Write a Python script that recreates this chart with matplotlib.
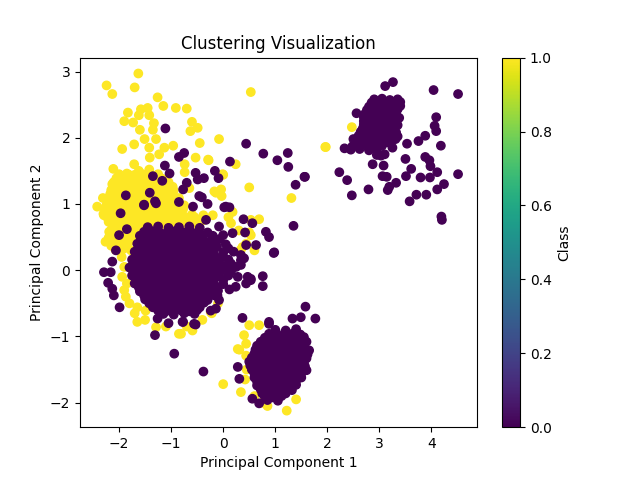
import matplotlib
matplotlib.use("Agg")
import matplotlib.pyplot as plt
import numpy as np

# ---- Class 1 (yellow) points ----
class1_x = [
    -1.63, -2.24, -2.13, -1.70, 0.53, -1.26, -1.15, -0.91, -0.70, -1.83, -1.58, -1.45, -1.62, -1.42,
    -1.90, -1.73, -1.33, -0.60, -0.49, -0.63, -1.60, -1.35, -0.08, -0.45, -1.51, -1.29, -1.71, -1.94,
    -1.42, -1.13, -0.96, -1.41, -1.23, -0.53, -0.29, 0.24, -2.11, -1.71, -1.62, -1.42, -1.81, -0.74,
    -0.74, 0.00, 0.50, -2.13, -2.00, -0.14, -0.04, -2.31, -0.65, 1.96, -0.28, -0.01, 1.31, -0.17,
    -0.03, 0.18, 0.69, 0.53, 0.50, 0.34, 0.60, -0.38, -2.42, -2.29, -2.19, -2.26, -1.94, -1.90,
    -1.87, -1.65, -1.49, -1.65, -1.29, -0.85, -0.59, -0.24, -0.22, -0.81, 0.44, 0.53, 0.15, 0.37,
    -0.40, -0.20, -0.55, 0.10, 0.30,
    -1.95, -1.90, -1.85, -1.80, -1.70, -1.50, -1.10, -0.70, -0.40, -0.10,
    2.47, 1.97,
    0.50, 0.69, 0.40, 0.44, 0.28, 1.01, 0.31, 0.44, 0.00, 0.34, 0.85, 1.22, 0.45, 0.42, 0.60, 1.40, 0.75,
    # dense yellow core
    -2.00, -1.85, -1.70, -1.55, -1.40, -1.25,
    -2.05, -1.92, -1.77, -1.62, -1.47, -1.32, -1.17,
    -2.10, -1.95, -1.80, -1.65, -1.50, -1.35, -1.20, -1.05,
    -2.12, -1.97, -1.82, -1.67, -1.52, -1.37, -1.22, -1.07, -0.97,
    -2.15, -2.00, -1.85, -1.70, -1.55, -1.40, -1.25, -1.10, -0.95,
    -2.17, -2.02, -1.87, -1.72, -1.57, -1.42, -1.27, -1.12, -0.97,
    -2.20, -2.05, -1.90, -1.75, -1.60, -1.45, -1.30, -1.15, -1.00, -0.85,
    -2.22, -2.07, -1.92, -1.77, -1.62, -1.47, -1.32, -1.17, -1.02, -0.87,
    -2.25, -2.10, -1.95, -1.80, -1.65, -1.50, -1.35, -1.20, -1.05, -0.90, -0.75,
    -2.27, -2.12, -1.97, -1.82, -1.67, -1.52, -1.37, -1.22, -1.07, -0.92, -0.77,
    -2.30, -2.15, -2.00, -1.85, -1.70, -1.55, -1.40, -1.25, -1.10, -0.95, -0.80, -0.60,
    -2.22, -2.07, -1.92, -1.77, -1.62, -1.47, -1.32, -1.17, -1.02, -0.87, -0.72, -0.55,
    -2.20, -2.05, -1.90, -1.75, -1.60, -1.45, -1.30, -1.15, -1.00, -0.85, -0.70, -0.50,
    -2.12, -1.97, -1.82, -1.67, -1.52, -1.37, -1.22, -1.07, -0.92, -0.77, -0.62,
    -2.15, -2.00, -1.85, -1.70, -1.55,
    -2.12, -1.97, -1.82, -1.67, -1.52,
    -2.20, -2.05, -1.90, -1.75,
    -2.12, -1.97, -1.82, -1.67,
    -2.15, -2.00, -1.85,
    -2.07, -1.92, -1.77,
]
class1_y = [
    2.97, 2.79, 2.66, 2.76, 2.69, 2.61, 2.48, 2.45, 2.44, 2.38, 2.43, 2.45, 2.34, 2.34,
    2.25, 2.23, 2.22, 2.24, 2.15, 2.10, 2.12, 2.12, 1.98, 1.92, 1.98, 1.98, 1.90, 1.83,
    1.85, 1.85, 1.88, 1.70, 1.75, 1.70, 1.67, 1.60, 1.53, 1.60, 1.50, 1.52, 1.44, 1.60,
    1.48, 1.44, 1.25, 1.30, 1.30, 1.17, 1.22, 1.09, 1.24, 1.86, 1.66, 1.45, 1.09, 1.19,
    1.12, 0.88, 0.77, 0.76, 0.57, 0.31, 0.30, 0.83, 0.96, 0.83, 0.58, 0.43, -0.10, -0.30,
    -0.40, -0.56, -0.61, -0.78, -0.86, -0.96, -0.91, -0.63, -0.65, -0.96, 0.40, 0.53, 0.71, 0.35,
    0.75, 0.83, 0.80, 0.80, 0.60,
    0.20, 0.05, -0.20, -0.50, -0.65, -0.75, -0.85, -0.85, -0.75, -0.50,
    2.16, 1.86,
    -0.83, -0.83, -0.98, -1.11, -1.19, -0.98, -1.20, -1.29, -1.72, -1.84, -2.05, -2.12, -1.50, -1.65, -1.90, -1.95, -2.00,
    1.45, 1.46, 1.44, 1.45, 1.43, 1.45,
    1.39, 1.39, 1.40, 1.38, 1.39, 1.40, 1.38,
    1.33, 1.34, 1.32, 1.33, 1.34, 1.32, 1.33, 1.33,
    1.27, 1.28, 1.26, 1.27, 1.28, 1.26, 1.27, 1.28, 1.26,
    1.21, 1.22, 1.20, 1.21, 1.22, 1.20, 1.21, 1.22, 1.20,
    1.15, 1.16, 1.14, 1.15, 1.16, 1.14, 1.15, 1.16, 1.14,
    1.09, 1.10, 1.08, 1.09, 1.10, 1.08, 1.09, 1.10, 1.08, 1.09,
    1.03, 1.04, 1.02, 1.03, 1.04, 1.02, 1.03, 1.04, 1.02, 1.03,
    0.97, 0.98, 0.96, 0.97, 0.98, 0.96, 0.97, 0.98, 0.96, 0.97, 0.98,
    0.91, 0.92, 0.90, 0.91, 0.92, 0.90, 0.91, 0.92, 0.90, 0.91, 0.92,
    0.85, 0.86, 0.84, 0.85, 0.86, 0.84, 0.85, 0.86, 0.84, 0.85, 0.86, 0.84,
    0.79, 0.80, 0.78, 0.79, 0.80, 0.78, 0.79, 0.80, 0.78, 0.79, 0.80, 0.78,
    0.73, 0.74, 0.72, 0.73, 0.74, 0.72, 0.73, 0.74, 0.72, 0.73, 0.74, 0.72,
    0.67, 0.68, 0.66, 0.67, 0.68, 0.66, 0.67, 0.68, 0.66, 0.67, 0.68,
    0.61, 0.62, 0.60, 0.61, 0.62,
    0.55, 0.56, 0.54, 0.55, 0.56,
    0.49, 0.50, 0.48, 0.49,
    0.43, 0.44, 0.42, 0.43,
    0.37, 0.38, 0.36,
    0.31, 0.32, 0.30,
]

# ---- Class 0 (purple) points ----
class0_x = [
    -1.11, 0.44, 0.77, 1.04, 1.24, 1.25, 1.56, 1.39, 1.35, -0.75, -0.85, 0.13, -1.12, -1.03,
    -0.53, -0.37, -0.49, -0.16, -0.09, -1.35, -1.17, -0.70, -0.77, -1.87, -1.41, -1.31, -0.46, -0.30,
    -0.85, -1.52, 0.05, -0.58, -0.41, 0.02, 0.12, 0.39, 0.56, 0.82, 0.88, 0.42, 0.63, 0.44, 0.98,
    0.40, 0.34, -0.33, -0.08, 0.18, 0.97, 0.76, 0.76, 0.53, 0.44, 0.28, 0.12, -0.11, -0.14, 0.34,
    0.34, -0.77, -0.56, -0.38, 0.37, -1.97, -2.29, -2.16, -2.21, -2.13, -2.10, -1.99, -2.13, -2.06,
    -2.00, -1.85, -1.52, -1.29, -1.31, -1.05, -1.26, -0.78, -0.53, 0.47, 0.53, 0.24, -0.08, -0.24,
    -0.94,
    # bottom cluster outliers
    1.58, 1.77, 0.88, 1.33, 1.49, 0.28, 0.31, 0.56, 0.69, 0.88,
    # right cluster outliers
    3.11, 3.26, 4.04, 4.51, 2.56, 4.09, 4.06, 4.09, 2.33, 3.31, 3.53, 3.75, 3.88, 4.18, 3.03, 2.87,
    3.08, 3.50, 3.88, 3.96, 3.98, 3.61, 3.51, 4.11, 4.51, 2.23, 2.38, 1.57, 3.06, 3.14, 3.79, 3.97,
    3.32, 3.19, 3.16, 2.79, 4.24, 4.11, 2.47, 3.71, 3.90, 3.58, 4.19, 4.20,
    # left cluster core
    -1.45, -1.25, -1.05, -0.85, -0.65, -0.45,
    -1.52, -1.37, -1.22, -1.07, -0.92, -0.77, -0.62, -0.47, -0.30,
    -1.60, -1.45, -1.30, -1.15, -1.00, -0.85, -0.70, -0.55, -0.40, -0.20, 0.00,
    -1.57, -1.42, -1.27, -1.12, -0.97, -0.82, -0.67, -0.52, -0.37, -0.22, -0.07,
    -1.65, -1.50, -1.35, -1.20, -1.05, -0.90, -0.75, -0.60, -0.45, -0.30, -0.15, 0.05,
    -1.62, -1.47, -1.32, -1.17, -1.02, -0.87, -0.72, -0.57, -0.42, -0.27, -0.12, 0.10,
    -1.70, -1.55, -1.40, -1.25, -1.10, -0.95, -0.80, -0.65, -0.50, -0.35, -0.20, 0.00, 0.20,
    -1.67, -1.52, -1.37, -1.22, -1.07, -0.92, -0.77, -0.62, -0.47, -0.32, -0.17, 0.00,
    -1.75, -1.60, -1.45, -1.30, -1.15, -1.00, -0.85, -0.70, -0.55, -0.40, -0.25, -0.10, 0.10,
    -1.72, -1.57, -1.42, -1.27, -1.12, -0.97, -0.82, -0.67, -0.52, -0.37, -0.22, -0.05, 0.15,
    -1.80, -1.65, -1.50, -1.35, -1.20, -1.05, -0.90, -0.75, -0.60, -0.45, -0.30, -0.15, 0.05, 0.25,
    -1.72, -1.57, -1.42, -1.27, -1.12, -0.97, -0.82, -0.67, -0.52, -0.37, -0.22, -0.05, 0.15,
    -1.75, -1.60, -1.45, -1.30, -1.15, -1.00, -0.85, -0.70, -0.55, -0.40, -0.25, -0.10, 0.10,
    -1.67, -1.52, -1.37, -1.22, -1.07, -0.92, -0.77, -0.62, -0.47, -0.32, -0.17, 0.00,
    -1.70, -1.55, -1.40, -1.25, -1.10, -0.95, -0.80, -0.65, -0.50, -0.35, -0.20, 0.00,
    -1.62, -1.47, -1.32, -1.17, -1.02, -0.87, -0.72, -0.57, -0.42, -0.27, -0.12,
    -1.60, -1.45, -1.30, -1.15, -1.00, -0.85, -0.70, -0.55, -0.40, -0.25, -0.10,
    -1.52, -1.37, -1.22, -1.07, -0.92, -0.77, -0.62, -0.47, -0.32, -0.17,
    -1.50, -1.35, -1.20, -1.05, -0.90, -0.75, -0.60, -0.45, -0.30,
    -1.42, -1.27, -1.12, -0.97, -0.82, -0.67, -0.52, -0.37,
    -1.35, -1.20, -1.05, -0.90, -0.75, -0.60, -0.45,
    -1.25, -1.10, -0.95, -0.80, -0.65, -0.50,
    -1.15, -0.95, -0.75, -0.55,
    # bottom cluster core
    1.00, 1.20, 1.40,
    0.88, 1.03, 1.18, 1.33, 1.48,
    0.80, 0.95, 1.10, 1.25, 1.40, 1.55,
    0.72, 0.87, 1.02, 1.17, 1.32, 1.47, 1.60,
    0.65, 0.80, 0.95, 1.10, 1.25, 1.40, 1.55,
    0.62, 0.77, 0.92, 1.07, 1.22, 1.37, 1.52, 1.65,
    0.60, 0.75, 0.90, 1.05, 1.20, 1.35, 1.50, 1.62,
    0.55, 0.70, 0.85, 1.00, 1.15, 1.30, 1.45, 1.60,
    0.50, 0.65, 0.80, 0.95, 1.10, 1.25, 1.40, 1.55,
    0.52, 0.67, 0.82, 0.97, 1.12, 1.27, 1.42, 1.57,
    0.55, 0.70, 0.85, 1.00, 1.15, 1.30, 1.45, 1.60,
    0.60, 0.75, 0.90, 1.05, 1.20, 1.35, 1.50,
    0.60, 0.75, 0.90, 1.05, 1.20, 1.35, 1.50,
    0.65, 0.80, 0.95, 1.10, 1.25, 1.40,
    0.65, 0.80, 0.95, 1.10, 1.25, 1.40,
    0.72, 0.87, 1.02, 1.17, 1.32,
    0.75, 0.90, 1.05, 1.20,
    0.80, 0.95, 1.12,
    0.85, 1.05,
    # right cluster core
    2.90, 3.05, 3.20, 3.35,
    2.85, 2.98, 3.12, 3.28, 3.40,
    2.80, 2.95, 3.10, 3.25, 3.40,
    2.76, 2.90, 3.05, 3.20, 3.35,
    2.72, 2.87, 3.02, 3.17, 3.32,
    2.70, 2.80, 2.95, 3.10, 3.25, 3.38,
    2.70, 2.85, 3.00, 3.15, 3.30,
    2.70, 2.78, 2.92, 3.07, 3.22, 3.35,
    2.68, 2.83, 2.98, 3.13, 3.28,
    2.64, 2.76, 2.90, 3.05, 3.20, 3.32,
    2.60, 2.75, 2.90, 3.05, 3.20, 3.35,
    2.50, 2.62, 2.78, 2.93, 3.08, 3.25,
    2.55, 2.70, 2.85, 3.00, 3.15,
    2.48, 2.62, 2.78, 2.92, 3.05,
    2.45, 2.62, 2.80, 2.95,
    2.95, 3.10, 3.25,
]
class0_y = [
    2.14, 1.91, 1.76, 1.66, 1.77, 1.56, 1.41, 1.29, 0.67, 1.77, 1.71, 1.64, 1.58, 1.46,
    1.47, 1.39, 1.37, 1.50, 1.39, 1.42, 1.35, 1.32, 1.22, 1.13, 1.17, 1.04, 1.12, 1.00,
    1.03, 0.99, 0.96, 0.96, 1.10, 0.95, 0.95, 0.77, 0.71, 0.58, 0.50, 0.57, 0.38, 0.38, 0.27,
    0.18, 0.08, 0.76, 0.66, 0.56, 0.26, -0.09, -0.24, -0.13, -0.20, -0.10, -0.29, -0.38, -0.58, 0.15,
    0.23, -0.78, -0.81, -1.53, -0.72, 0.86, -0.03, -0.03, -0.19, -0.28, -0.38, -0.56, 0.13, 0.30,
    0.53, 0.62, 0.98, 1.01, -0.98, -0.80, -0.73, -0.78, -0.82, -0.10, -0.15, -0.25, -0.45, -0.61,
    -1.26,
    -0.55, -0.73, -0.81, -0.73, -0.71, -1.46, -1.64, -1.94, -2.01, -0.78,
    2.78, 2.84, 2.72, 2.66, 2.37, 2.31, 2.18, 2.10, 1.84, 1.98, 1.91, 1.95, 2.03, 1.88, 1.73, 1.60,
    1.58, 1.68, 1.71, 1.66, 1.57, 1.53, 1.42, 1.48, 1.45, 1.48, 1.36, 1.41, 1.42, 1.41, 1.40, 1.40,
    1.32, 1.26, 1.21, 1.22, 1.30, 1.22, 1.13, 1.14, 1.14, 1.04, 0.81, 0.76,
    0.65, 0.66, 0.64, 0.65, 0.66, 0.64,
    0.58, 0.59, 0.57, 0.58, 0.59, 0.57, 0.58, 0.59, 0.57,
    0.52, 0.53, 0.51, 0.52, 0.53, 0.51, 0.52, 0.53, 0.51, 0.52, 0.53,
    0.46, 0.47, 0.45, 0.46, 0.47, 0.45, 0.46, 0.47, 0.45, 0.46, 0.47,
    0.40, 0.41, 0.39, 0.40, 0.41, 0.39, 0.40, 0.41, 0.39, 0.40, 0.41, 0.39,
    0.34, 0.35, 0.33, 0.34, 0.35, 0.33, 0.34, 0.35, 0.33, 0.34, 0.35, 0.33,
    0.28, 0.29, 0.27, 0.28, 0.29, 0.27, 0.28, 0.29, 0.27, 0.28, 0.29, 0.27, 0.28,
    0.22, 0.23, 0.21, 0.22, 0.23, 0.21, 0.22, 0.23, 0.21, 0.22, 0.23, 0.21,
    0.16, 0.17, 0.15, 0.16, 0.17, 0.15, 0.16, 0.17, 0.15, 0.16, 0.17, 0.15, 0.16,
    0.10, 0.11, 0.09, 0.10, 0.11, 0.09, 0.10, 0.11, 0.09, 0.10, 0.11, 0.09, 0.10,
    0.04, 0.05, 0.03, 0.04, 0.05, 0.03, 0.04, 0.05, 0.03, 0.04, 0.05, 0.03, 0.04, 0.05,
    -0.02, -0.01, -0.03, -0.02, -0.01, -0.03, -0.02, -0.01, -0.03, -0.02, -0.01, -0.03, -0.02,
    -0.08, -0.07, -0.09, -0.08, -0.07, -0.09, -0.08, -0.07, -0.09, -0.08, -0.07, -0.09, -0.08,
    -0.14, -0.13, -0.15, -0.14, -0.13, -0.15, -0.14, -0.13, -0.15, -0.14, -0.13, -0.15,
    -0.20, -0.19, -0.21, -0.20, -0.19, -0.21, -0.20, -0.19, -0.21, -0.20, -0.19, -0.21,
    -0.26, -0.25, -0.27, -0.26, -0.25, -0.27, -0.26, -0.25, -0.27, -0.26, -0.25,
    -0.32, -0.31, -0.33, -0.32, -0.31, -0.33, -0.32, -0.31, -0.33, -0.32, -0.31,
    -0.38, -0.37, -0.39, -0.38, -0.37, -0.39, -0.38, -0.37, -0.39, -0.38,
    -0.44, -0.43, -0.45, -0.44, -0.43, -0.45, -0.44, -0.43, -0.45,
    -0.50, -0.49, -0.51, -0.50, -0.49, -0.51, -0.50, -0.49,
    -0.56, -0.55, -0.57, -0.56, -0.55, -0.57, -0.56,
    -0.61, -0.62, -0.60, -0.61, -0.62, -0.60,
    -0.66, -0.67, -0.65, -0.66,
    -0.90, -0.91, -0.89,
    -0.96, -0.97, -0.95, -0.96, -0.97,
    -1.02, -1.03, -1.01, -1.02, -1.03, -1.01,
    -1.08, -1.09, -1.07, -1.08, -1.09, -1.07, -1.08,
    -1.14, -1.15, -1.13, -1.14, -1.15, -1.13, -1.14,
    -1.20, -1.21, -1.19, -1.20, -1.21, -1.19, -1.20, -1.21,
    -1.26, -1.27, -1.25, -1.26, -1.27, -1.25, -1.26, -1.27,
    -1.32, -1.33, -1.31, -1.32, -1.33, -1.31, -1.32, -1.33,
    -1.38, -1.39, -1.37, -1.38, -1.39, -1.37, -1.38, -1.39,
    -1.44, -1.45, -1.43, -1.44, -1.45, -1.43, -1.44, -1.45,
    -1.50, -1.51, -1.49, -1.50, -1.51, -1.49, -1.50, -1.51,
    -1.56, -1.57, -1.55, -1.56, -1.57, -1.55, -1.56,
    -1.62, -1.63, -1.61, -1.62, -1.63, -1.61, -1.62,
    -1.68, -1.69, -1.67, -1.68, -1.69, -1.67,
    -1.74, -1.75, -1.73, -1.74, -1.75, -1.73,
    -1.80, -1.81, -1.79, -1.80, -1.81,
    -1.86, -1.87, -1.85, -1.86,
    -1.91, -1.92, -1.90,
    -1.96, -1.97,
    2.58, 2.59, 2.57, 2.58,
    2.53, 2.54, 2.52, 2.53, 2.54,
    2.47, 2.48, 2.46, 2.47, 2.48,
    2.42, 2.43, 2.41, 2.42, 2.43,
    2.36, 2.37, 2.35, 2.36, 2.37,
    2.31, 2.32, 2.30, 2.31, 2.32, 2.30,
    2.25, 2.26, 2.24, 2.25, 2.26,
    2.20, 2.21, 2.19, 2.20, 2.21, 2.19,
    2.14, 2.15, 2.13, 2.14, 2.15,
    2.09, 2.10, 2.08, 2.09, 2.10, 2.08,
    2.03, 2.04, 2.02, 2.03, 2.04, 2.02,
    1.98, 1.99, 1.97, 1.98, 1.99, 1.97,
    1.92, 1.93, 1.91, 1.92, 1.93,
    1.87, 1.88, 1.86, 1.87, 1.88,
    1.82, 1.83, 1.81, 1.82,
    1.74, 1.75, 1.85,
]

x = np.array(class1_x + class0_x)
y = np.array(class1_y + class0_y)
labels = np.array([1] * len(class1_x) + [0] * len(class0_x))

fig, ax = plt.subplots(figsize=(6.4, 4.8), dpi=100)
sc = ax.scatter(x, y, c=labels, cmap="viridis")
cbar = fig.colorbar(sc, ax=ax)
cbar.set_label("Class")
ax.set_xlim(-2.75, 4.87)
ax.set_ylim(-2.37, 3.21)
ax.set_title("Clustering Visualization")
ax.set_xlabel("Principal Component 1")
ax.set_ylabel("Principal Component 2")
fig.savefig("out.png", dpi=100)
